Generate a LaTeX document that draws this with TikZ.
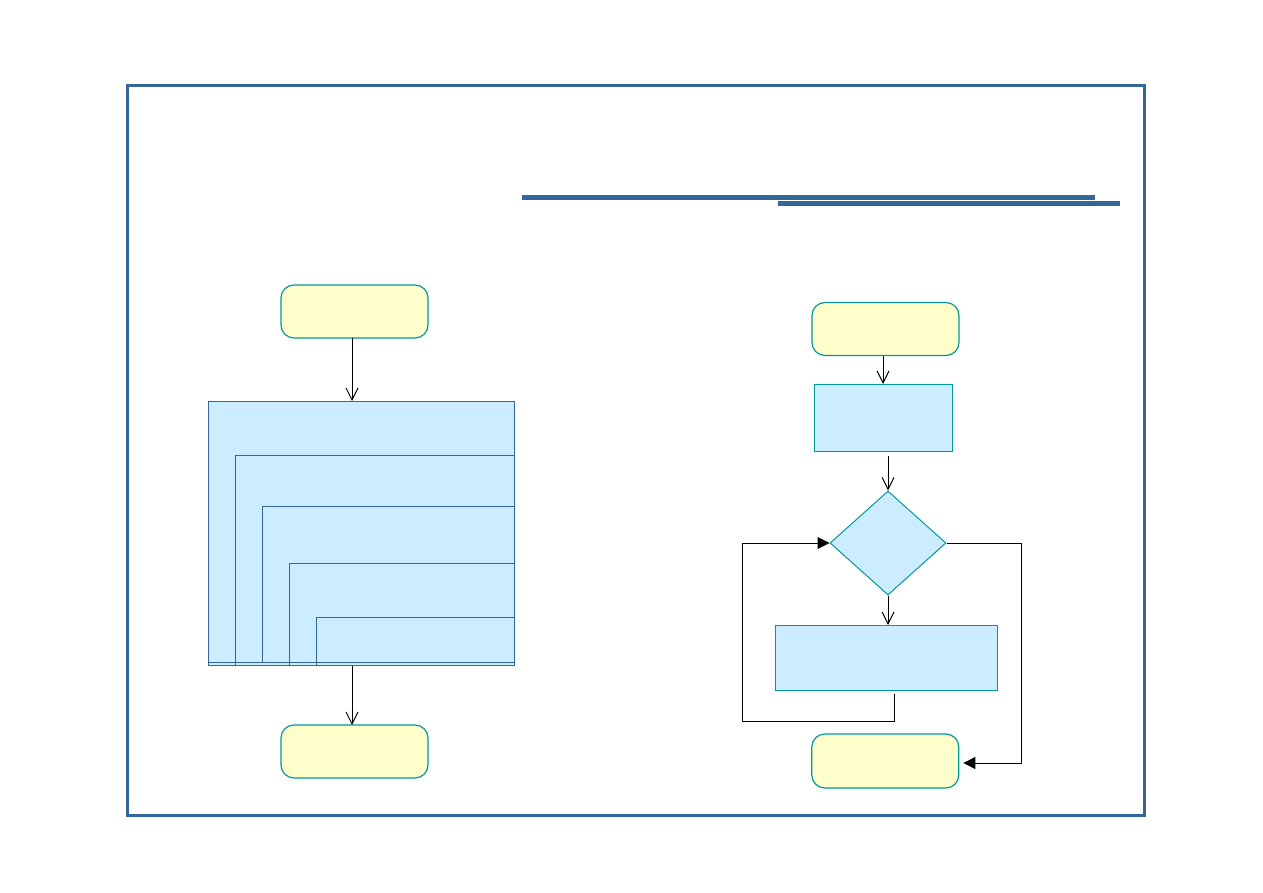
\documentclass[tikz,border=0pt]{standalone}
\usetikzlibrary{arrows.meta,shapes.geometric}
\definecolor{frameblue}{HTML}{336699}
\definecolor{tealb}{HTML}{009999}
\definecolor{lyellow}{HTML}{FFFFCC}
\definecolor{lblue}{HTML}{CCECFF}
\begin{document}
\begin{tikzpicture}[x=1pt,y=-1pt,
  terminal/.style={draw=tealb,fill=lyellow,line width=1.2pt,rounded corners=13pt,minimum width=147pt,minimum height=53pt,inner sep=0pt},
  procbox/.style={draw=tealb,fill=lblue,line width=1pt,inner sep=0pt},
  decbox/.style={diamond,draw=tealb,fill=lblue,line width=1pt,inner sep=0pt,minimum width=116pt,minimum height=104pt},
  vline/.style={black,line width=1pt,-{Straight Barb[length=12pt,width=12pt,line width=1pt]}},
  tline/.style={black,line width=1pt,-{Triangle[length=12pt,width=12pt]}},
  nest/.style={frameblue,line width=1pt}]
\fill[white] (0,0) rectangle (1263,893);
\useasboundingbox (0,0) rectangle (1263,893);
% frame
\draw[frameblue,line width=3pt] (127,86) rectangle (1144,815);
% title rules
\draw[frameblue,line width=5pt] (522,198) -- (1095,198);
\draw[frameblue,line width=5pt] (778,204) -- (1120,204);
% left flowchart
\node[terminal] (ls) at (354.5,311.5) {};
\node[draw=frameblue,fill=lblue,line width=1pt,minimum width=306pt,minimum height=264pt,inner sep=0pt] (lbig) at (361,533) {};
\draw[nest] (208,662.5) -- (514,662.5);
\draw[nest] (235.3,665) |- (514,455.3);
\draw[nest] (262.3,662.5) |- (514,506.3);
\draw[nest] (289.3,665) |- (514,563.3);
\draw[nest] (316.3,665) |- (514,617.3);
\node[terminal] (le) at (354.5,751.5) {};
\draw[vline] (352,338) -- (352,401);
\draw[vline] (352,666) -- (352,725);
% right flowchart
\node[terminal] (rs) at (885.5,329) {};
\node[procbox,minimum width=138pt,minimum height=67pt] (r1) at (883.5,418) {};
\node[decbox] (d) at (888,543) {};
\node[procbox,minimum width=222pt,minimum height=65pt] (r2) at (886.3,658) {};
\node[terminal,minimum height=54pt] (re) at (885.3,761) {};
\draw[vline] (rs.south -| 883,0) -- (r1.north -| 883,0);
\draw[vline] ([yshift=-4pt]r1.south -| d.north) -- (d.north);
\draw[vline] (d.south) -- (r2.north -| d.south);
\coordinate (lp) at (742,721);
\coordinate (rp) at (1021,763);
\draw[tline] ([xshift=8pt,yshift=-3pt]r2.south) |- (lp) |- (d.west);
\draw[tline] (d.east) -| (rp) -- ([xshift=4pt]re.east |- rp);
\end{tikzpicture}
\end{document}
